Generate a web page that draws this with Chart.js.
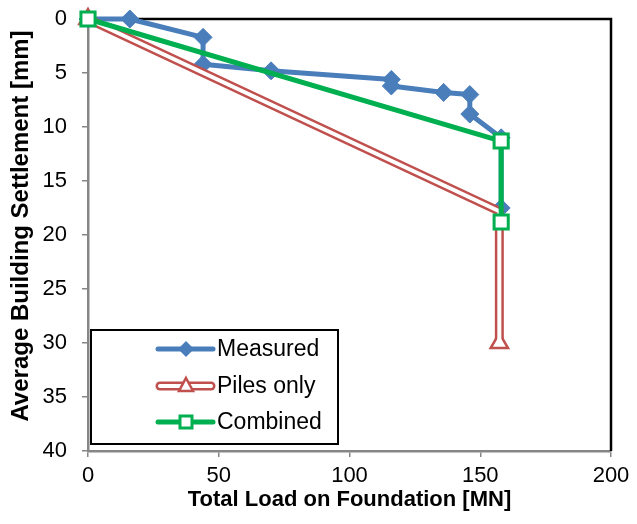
<!DOCTYPE html>
<html>
<head>
<meta charset="utf-8">
<script src="https://cdn.jsdelivr.net/npm/chart.js@4/dist/chart.umd.min.js"></script>
<style>
  html, body { margin: 0; padding: 0; background: #fff; }
  #wrap { width: 637px; height: 524px; }
</style>
</head>
<body>
<div id="wrap"><canvas id="settlementChart" width="637" height="524"></canvas></div>
<script>
// Load (MN) vs settlement (mm)
const measuredLoad = [0, 16, 44, 44, 70, 116, 116, 136, 146, 146, 158, 158];
const measuredSettle = [0, 0, 1.7, 4.2, 4.8, 5.6, 6.2, 6.8, 7.0, 8.8, 11.0, 17.5];
const pilesLoad = [0, 157.3, 157.3];
const pilesSettle = [0, 17.8, 30];
const combinedLoad = [0, 158, 158];
const combinedSettle = [0, 11.3, 18.8];

const xTicks = [0, 50, 100, 150, 200];
const yTicks = [0, 5, 10, 15, 20, 25, 30, 35, 40];

const seriesNames = ["Measured", "Piles only", "Combined"];
const xTitle = "Total Load on Foundation [MN]";
const yTitle = "Average Building Settlement [mm]";

const BLUE = "#4A7EBB";
const RED = "#C0504D";
const GREEN = "#00B050";
const AXIS = "#868686";
const FONT = "'Liberation Sans', Arial, sans-serif";

function toPoints(xs, ys) {
  return xs.map((x, i) => ({ x: x, y: ys[i] }));
}

// top + right black frame lines, y title
const framePlugin = {
  id: "frame",
  beforeDatasetsDraw(chart) {
    const { ctx, chartArea: a } = chart;
    ctx.save();
    ctx.strokeStyle = "#000";
    ctx.lineWidth = 2.5;
    ctx.beginPath();
    ctx.moveTo(a.left, a.top);
    ctx.lineTo(a.right, a.top);
    ctx.lineTo(a.right, a.bottom);
    ctx.stroke();

    ctx.translate(21, 226);
    ctx.rotate(-Math.PI / 2);
    ctx.fillStyle = "#000";
    ctx.font = "bold 24px " + FONT;
    ctx.textAlign = "center";
    ctx.textBaseline = "middle";
    ctx.fillText(yTitle, 0, 0);
    ctx.restore();
  }
};

// Excel-style legend box: line + marker + text
const legendPlugin = {
  id: "excelLegend",
  afterDraw(chart) {
    const ctx = chart.ctx;
    const box = { left: 91, top: 330, right: 338, bottom: 444 };
    const rows = [349, 386, 422];
    const x0 = 158, x1 = 213, mx = 186;
    ctx.save();
    ctx.fillStyle = "#fff";
    ctx.fillRect(box.left, box.top, box.right - box.left, box.bottom - box.top);
    ctx.strokeStyle = "#000";
    ctx.lineWidth = 2;
    ctx.strokeRect(box.left, box.top, box.right - box.left, box.bottom - box.top);
    ctx.lineCap = "round";

    // Measured
    let y = rows[0];
    ctx.strokeStyle = BLUE;
    ctx.lineWidth = 5;
    ctx.beginPath(); ctx.moveTo(x0, y); ctx.lineTo(x1, y); ctx.stroke();
    ctx.fillStyle = BLUE;
    ctx.beginPath();
    ctx.moveTo(mx, y - 8); ctx.lineTo(mx + 8, y); ctx.lineTo(mx, y + 8); ctx.lineTo(mx - 8, y);
    ctx.closePath(); ctx.fill();

    // Piles only
    y = rows[1];
    ctx.strokeStyle = RED;
    ctx.lineWidth = 9;
    ctx.beginPath(); ctx.moveTo(x0 + 2, y); ctx.lineTo(x1 - 2, y); ctx.stroke();
    ctx.strokeStyle = "#fff";
    ctx.lineWidth = 4;
    ctx.beginPath(); ctx.moveTo(x0 + 2, y); ctx.lineTo(x1 - 2, y); ctx.stroke();
    ctx.strokeStyle = RED;
    ctx.fillStyle = "#fff";
    ctx.lineWidth = 2.5;
    ctx.lineJoin = "miter";
    ctx.beginPath();
    ctx.moveTo(mx, y - 8); ctx.lineTo(mx + 7, y + 5); ctx.lineTo(mx - 7, y + 5);
    ctx.closePath(); ctx.fill(); ctx.stroke();

    // Combined
    y = rows[2];
    ctx.strokeStyle = GREEN;
    ctx.lineWidth = 5;
    ctx.beginPath(); ctx.moveTo(x0, y); ctx.lineTo(x1, y); ctx.stroke();
    ctx.fillStyle = "#fff";
    ctx.lineWidth = 3;
    ctx.fillRect(mx - 6, y - 6, 12, 12);
    ctx.strokeRect(mx - 6, y - 6, 12, 12);

    ctx.fillStyle = "#000";
    ctx.font = "23px " + FONT;
    ctx.textBaseline = "middle";
    ctx.textAlign = "left";
    seriesNames.forEach((name, i) => ctx.fillText(name, 217, rows[i] + 1));
    ctx.restore();
  }
};

const ctx = document.getElementById("settlementChart").getContext("2d");

new Chart(ctx, {
  type: "scatter",
  data: {
    datasets: [
      {
        label: seriesNames[0],
        data: toPoints(measuredLoad, measuredSettle),
        showLine: true,
        borderColor: BLUE,
        backgroundColor: BLUE,
        borderWidth: 5,
        borderCapStyle: "round",
        borderJoinStyle: "round",
        pointStyle: "rectRot",
        pointRadius: 9,
        pointBorderWidth: 1,
        clip: false,
        order: 4
      },
      {
        label: seriesNames[1],
        data: toPoints(pilesLoad, pilesSettle),
        showLine: true,
        borderColor: RED,
        backgroundColor: "#fff",
        borderWidth: 9,
        borderJoinStyle: "miter",
        pointStyle: "triangle",
        pointRadius: [10, 0, 10],
        pointBorderWidth: 2.5,
        pointBorderColor: RED,
        clip: false,
        order: 3
      },
      {
        label: "piles-inner",
        data: toPoints(pilesLoad, pilesSettle),
        showLine: true,
        borderColor: "#fff",
        borderWidth: 4,
        borderJoinStyle: "miter",
        pointRadius: 0,
        clip: false,
        order: 2
      },
      {
        label: seriesNames[2],
        data: toPoints(combinedLoad, combinedSettle),
        showLine: true,
        borderColor: GREEN,
        backgroundColor: "#fff",
        borderWidth: 5,
        borderCapStyle: "round",
        borderJoinStyle: "round",
        pointStyle: "rect",
        pointRadius: 10,
        pointBorderWidth: 3,
        pointBorderColor: GREEN,
        clip: false,
        order: 1
      }
    ]
  },
  options: {
    responsive: false,
    animation: false,
    layout: { padding: { top: 19, right: 26, left: 0, bottom: 0 } },
    plugins: {
      legend: { display: false },
      tooltip: { enabled: false }
    },
    scales: {
      x: {
        type: "linear",
        min: 0,
        max: 200,
        afterBuildTicks: (scale) => { scale.ticks = xTicks.map(v => ({ value: v })); },
        afterFit: (scale) => {
          scale.height = 73;
          scale.paddingLeft = 0;
          scale.paddingRight = 0;
        },
        ticks: { color: "#000", font: { family: FONT, size: 22 }, padding: 6, maxRotation: 0 },
        grid: { drawOnChartArea: false, color: AXIS, tickLength: 6, lineWidth: 1.5 },
        border: { color: AXIS, width: 2.5 },
        title: {
          display: true,
          text: xTitle,
          color: "#000",
          font: { family: FONT, size: 22, weight: "bold" },
          padding: { top: 0, bottom: 11 }
        }
      },
      y: {
        type: "linear",
        reverse: true,
        min: 0,
        max: 40,
        afterBuildTicks: (scale) => { scale.ticks = yTicks.map(v => ({ value: v })); },
        afterFit: (scale) => {
          scale.width = 88;
          scale.paddingTop = 0;
          scale.paddingBottom = 0;
        },
        ticks: { color: "#000", font: { family: FONT, size: 22 }, padding: 15 },
        grid: { drawOnChartArea: false, color: AXIS, tickLength: 6, lineWidth: 1.5 },
        border: { color: AXIS, width: 2.5 }
      }
    }
  },
  plugins: [framePlugin, legendPlugin]
});
</script>
</body>
</html>
